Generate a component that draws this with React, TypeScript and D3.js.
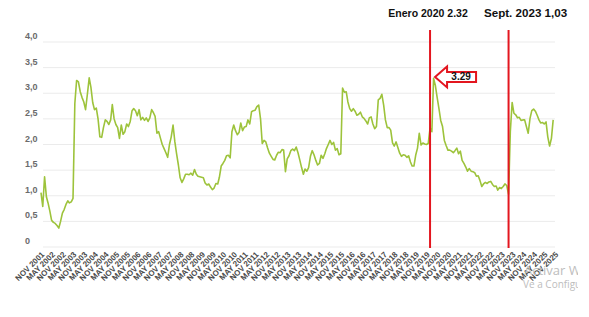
import React from "react";
import * as d3 from "d3";

// ---- data ----
const SERIES_START = "2001-11"; // first monthly observation
const AXIS_START = "2001-11";
const AXIS_END = "2025-11";
const seriesValues: number[] = [
  1.06, 0.79, 1.37, 0.98, 0.86, 0.70, 0.52, 0.48, 0.46, 0.42,
  0.37, 0.50, 0.66, 0.73, 0.83, 0.90, 0.86, 0.88, 0.95, 2.80,
  3.25, 3.22, 3.03, 2.92, 2.83, 2.68, 2.98, 3.30, 3.12, 2.82,
  2.68, 2.71, 2.50, 2.15, 2.14, 2.33, 2.48, 2.45, 2.39, 2.48,
  2.78, 2.50, 2.39, 2.33, 2.12, 2.38, 2.20, 2.25, 2.40, 2.35,
  2.45, 2.66, 2.70, 2.66, 2.56, 2.68, 2.48, 2.53, 2.47, 2.52,
  2.45, 2.52, 2.68, 2.62, 2.55, 2.22, 2.25, 2.12, 2.00, 1.92,
  1.84, 1.75, 2.00, 2.15, 2.38, 2.05, 1.82, 1.60, 1.35, 1.26,
  1.33, 1.42, 1.42, 1.41, 1.44, 1.40, 1.51, 1.42, 1.38, 1.37,
  1.36, 1.35, 1.25, 1.21, 1.23, 1.17, 1.12, 1.15, 1.24, 1.23,
  1.36, 1.58, 1.63, 1.69, 1.78, 1.79, 1.74, 2.25, 2.38, 2.27,
  2.19, 2.24, 2.42, 2.27, 2.34, 2.35, 2.48, 2.40, 2.64, 2.66,
  2.67, 2.74, 2.77, 2.50, 2.02, 2.08, 2.05, 1.93, 1.83, 1.77,
  1.71, 1.70, 1.79, 1.85, 1.84, 1.90, 1.89, 1.47, 1.72, 1.78,
  1.88, 1.91, 1.88, 1.95, 1.84, 1.70, 1.55, 1.42, 1.52, 1.48,
  1.55, 1.77, 1.88, 1.80, 1.69, 1.60, 1.63, 1.79, 1.73, 1.82,
  1.92, 2.00, 2.08, 2.00, 2.04, 1.89, 1.92, 1.80, 1.82, 3.10,
  3.02, 3.03, 2.83, 2.70, 2.65, 2.70, 2.65, 2.57, 2.59, 2.63,
  2.54, 2.51, 2.46, 2.40, 2.52, 2.54, 2.40, 2.31, 2.35, 2.87,
  2.90, 2.98, 2.77, 2.48, 2.33, 2.33, 2.28, 2.03, 1.97, 2.05,
  1.94, 1.83, 1.77, 1.80, 1.79, 1.75, 1.78, 1.66, 1.58, 1.58,
  1.79, 1.93, 2.22, 1.99, 2.03, 2.01, 2.00, 2.02, 2.32, 2.25,
  3.29, 3.15, 2.92, 2.70, 2.47, 2.35, 2.08, 1.98, 1.89, 1.89,
  1.87, 1.84, 1.88, 1.93, 1.82, 1.87, 1.69, 1.63, 1.56, 1.48,
  1.53, 1.48, 1.47, 1.45, 1.38, 1.39, 1.30, 1.18, 1.23, 1.26,
  1.24, 1.27, 1.28, 1.22, 1.18, 1.19, 1.11, 1.16, 1.14, 1.18,
  1.23, 1.20, 1.03, 2.25, 2.82, 2.61, 2.58, 2.52, 2.53, 2.47,
  2.48, 2.48, 2.35, 2.22, 2.51, 2.66, 2.69, 2.65, 2.57, 2.48,
  2.42, 2.43, 2.40, 2.44, 2.15, 1.97, 2.12, 2.48,
];
const yTicks: number[] = [0, 0.5, 1, 1.5, 2, 2.5, 3, 3.5, 4];
const xTickMonths: string[] = ["NOV", "MAY"];
const X_TICK_STEP_MONTHS = 6;
const eventDates: string[] = ["2020-01", "2023-09"];
const eventLabels: string[] = ["Enero 2020 2.32", "Sept. 2023 1,03"];
const peakDate = "2020-03";
const peakValue = 3.29;
const peakLabel = "3.29";
const watermark: string[] = ["Activar Windows", "Ve a Configuración para activar Windows."];

// ---- helpers ----
const parseMonth = d3.timeParse("%Y-%m");
const startDate = parseMonth(SERIES_START) as Date;
const points = seriesValues.map((v, i) => ({ date: d3.timeMonth.offset(startDate, i), value: v }));

const W = 589;
const H = 317;

export default function App() {
  const axisStart = parseMonth(AXIS_START) as Date;
  const axisEnd = parseMonth(AXIS_END) as Date;
  const x = d3.scaleTime().domain([axisStart, axisEnd]).range([41, 555]);
  const y = d3.scaleLinear().domain([0, 4]).range([247, 42]);

  const line = d3
    .line<{ date: Date; value: number }>()
    .x((d) => x(d.date))
    .y((d) => y(d.value));

  const nTicks = Math.round(d3.timeMonth.count(axisStart, axisEnd) / X_TICK_STEP_MONTHS) + 1;
  const ticks = d3.range(nTicks).map((i) => d3.timeMonth.offset(axisStart, i * X_TICK_STEP_MONTHS));
  const fmtYear = d3.timeFormat("%Y");
  const tickLabel = (d: Date) => `${d.getMonth() === 10 ? xTickMonths[0] : xTickMonths[1]} ${fmtYear(d)}`;
  const yFmt = (v: number) => (v === 0 ? "0" : d3.format(".1f")(v).replace(".", ","));

  const red = "#e3161f";
  const px = x(parseMonth(peakDate) as Date) + 1.5;
  const py = y(peakValue) - 1.5;
  const arrow = `M${px},${py} L${px + 12},${py - 10.5} L${px + 12},${py - 5} L${px + 41},${py - 5} L${px + 41},${py + 5} L${px + 12},${py + 5} L${px + 12},${py + 10.5} Z`;

  const eventX = eventDates.map((d) => x(parseMonth(d) as Date));
  const labelOffsets = [-2, 17];
  const labelSizes = [10.5, 11.6];

  return (
    <svg
      width={W}
      height={H}
      style={{ position: "absolute", left: 0, top: 0, background: "#fff" }}
      fontFamily="'Liberation Sans', Arial, sans-serif"
    >
      <defs>
        <clipPath id="wm">
          <rect x={0} y={0} width={578} height={H} />
        </clipPath>
      </defs>
      <rect x={0} y={0} width={W} height={H} fill="#fff" />
      {/* gridlines + y labels */}
      {yTicks.map((t) => (
        <g key={t}>
          <line x1={43} x2={555} y1={y(t)} y2={y(t)} stroke="#ebebeb" strokeWidth={1} />
          <text x={25} y={y(t) - 3} fontSize={9} fontWeight="bold" fill="#6b6b6b">
            {yFmt(t)}
          </text>
        </g>
      ))}
      {/* x labels */}
      {ticks.map((d) => (
        <text
          key={+d}
          transform={`translate(${x(d) + 2},${253}) rotate(-45)`}
          textAnchor="end"
          dy="0.35em"
          fontSize={8}
          fontWeight="bold"
          fill="#4a4a4a"
        >
          {tickLabel(d)}
        </text>
      ))}
      {/* series */}
      <path d={line(points) || ""} fill="none" stroke="#9dc33b" strokeWidth={1.6} strokeLinejoin="round" />
      {/* event lines */}
      {eventX.map((ex, i) => (
        <g key={i}>
          <line x1={ex} x2={ex} y1={30} y2={248} stroke={red} strokeWidth={2} />
          <text
            x={ex + labelOffsets[i]}
            y={17}
            textAnchor="middle"
            fontSize={labelSizes[i]}
            fontWeight="bold"
            fill="#111"
          >
            {eventLabels[i]}
          </text>
        </g>
      ))}
      {/* peak callout */}
      <path d={arrow} fill="#fff" stroke={red} strokeWidth={2} strokeLinejoin="miter" />
      <text x={px + 26} y={py} dy="0.35em" textAnchor="middle" fontSize={10} fontWeight="bold" fill="#111">
        {peakLabel}
      </text>
      {/* watermark */}
      <g clipPath="url(#wm)" fill="#bdbdbd" fontFamily="'Open Sans', 'Noto Sans', sans-serif">
        <text x={524} y={275} fontSize={13}>
          {watermark[0]}
        </text>
        <text x={523} y={288} fontSize={10}>
          {watermark[1]}
        </text>
      </g>
    </svg>
  );
}
